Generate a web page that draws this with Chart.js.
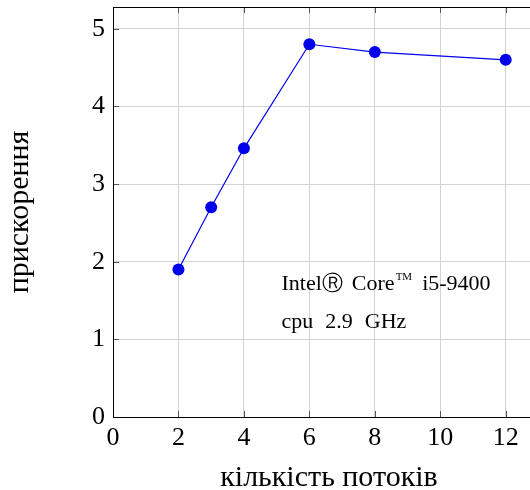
<!DOCTYPE html>
<html>
<head>
<meta charset="utf-8">
<script src="https://cdn.jsdelivr.net/npm/chart.js@4"></script>
<style>
  html, body { margin: 0; padding: 0; background: #fff; overflow: hidden; }
  #wrap { width: 560px; height: 500px; }
</style>
</head>
<body>
<div id="wrap"><canvas id="grafico" width="560" height="500"></canvas></div>
<script>
// dados
const threads = [2, 3, 4, 6, 8, 12];
const speedup = [1.9, 2.7, 3.46, 4.8, 4.7, 4.6];
const xTicks = [0, 2, 4, 6, 8, 10, 12];
const yTicks = [0, 1, 2, 3, 4, 5];
const cpuLine1 = ['Intel', '\u24C7', 'Core', 'TM', 'i5-9400'];
const cpuLine2 = ['cpu', '2.9', 'GHz'];

const serif = '"Liberation Serif", "DejaVu Serif", serif';
const azul = 'rgb(0, 0, 235)';

// marcas de tick para dentro + caixa + texto da CPU
const extras = {
    id: 'extras',
    afterDraw(chart) {
        const c = chart.ctx;
        const a = chart.chartArea;
        const sx = chart.scales.x, sy = chart.scales.y;
        c.save();
        c.strokeStyle = '#555';
        c.lineWidth = 1;
        c.beginPath();
        xTicks.forEach(v => {
            const px = Math.round(sx.getPixelForValue(v)) + 0.5;
            c.moveTo(px, a.bottom); c.lineTo(px, a.bottom - 6);
            c.moveTo(px, a.top); c.lineTo(px, a.top + 6);
        });
        yTicks.forEach(v => {
            const py = Math.round(sy.getPixelForValue(v)) + 0.5;
            c.moveTo(a.left, py); c.lineTo(a.left + 6, py);
            c.moveTo(a.right, py); c.lineTo(a.right - 6, py);
        });
        c.stroke();

        c.strokeStyle = '#000';
        c.beginPath();
        c.moveTo(a.left + 0.5, a.top + 0.5);
        c.lineTo(a.right, a.top + 0.5);
        c.moveTo(a.left + 0.5, a.top);
        c.lineTo(a.left + 0.5, a.bottom + 0.5);
        c.lineTo(a.right, a.bottom + 0.5);
        c.stroke();

        // texto "Intel(R) Core(TM) i5-9400 / cpu 2.9 GHz"
        c.fillStyle = '#000';
        c.textBaseline = 'alphabetic';
        const x0 = sx.getPixelForValue(5.15);
        const b1 = sy.getPixelForValue(1.64);
        const b2 = sy.getPixelForValue(1.15);
        const big = '22px ' + serif;
        let x = x0;
        c.font = big;
        c.fillText(cpuLine1[0], x, b1); x += c.measureText(cpuLine1[0]).width;
        c.font = '21px "DejaVu Sans", sans-serif';
        c.fillText(cpuLine1[1], x, b1); x += c.measureText(cpuLine1[1]).width + 9;
        c.font = big;
        c.fillText(cpuLine1[2], x, b1); x += c.measureText(cpuLine1[2]).width + 1;
        c.font = '11px ' + serif;
        c.fillText(cpuLine1[3], x, b1 - 10); x += c.measureText(cpuLine1[3]).width + 10;
        c.font = big;
        c.fillText(cpuLine1[4], x, b1);

        x = x0;
        cpuLine2.forEach(w => {
            c.fillText(w, x, b2);
            x += c.measureText(w).width + 12;
        });
        c.restore();
    }
};

new Chart(document.getElementById('grafico'), {
    type: 'line',
    data: {
        datasets: [{
            data: threads.map((t, i) => ({ x: t, y: speedup[i] })),
            borderColor: azul,
            backgroundColor: azul,
            borderWidth: 1.2,
            pointRadius: 6,
            pointHoverRadius: 6,
            pointBorderWidth: 0,
            tension: 0
        }]
    },
    options: {
        responsive: false,
        animation: false,
        layout: { padding: { top: 7, right: 15, left: 0, bottom: 0 } },
        plugins: { legend: { display: false }, tooltip: { enabled: false } },
        scales: {
            x: {
                type: 'linear',
                min: 0,
                max: 13.2,
                afterBuildTicks: s => { s.ticks = xTicks.map(v => ({ value: v })); },
                afterFit: s => { s.height = 83; s.paddingLeft = 0; s.paddingRight = 0; },
                grid: { color: '#d3d3d3', drawTicks: false, drawOnChartArea: true },
                border: { display: false },
                ticks: { padding: 6, color: '#000', font: { family: serif, size: 26 } },
                title: {
                    display: true,
                    text: 'кількість потоків',
                    color: '#000',
                    font: { family: serif, size: 30 },
                    padding: { top: 0, bottom: 4 }
                }
            },
            y: {
                min: 0,
                max: 5.28,
                afterBuildTicks: s => { s.ticks = yTicks.map(v => ({ value: v })); },
                afterFit: s => { s.width = 113; s.paddingTop = 0; s.paddingBottom = 0; },
                grid: { color: '#d3d3d3', drawTicks: false },
                border: { display: false },
                ticks: { padding: 8, color: '#000', font: { family: serif, size: 26 } },
                title: {
                    display: true,
                    text: 'прискорення',
                    color: '#000',
                    font: { family: serif, size: 30 },
                    padding: { top: 2 }
                }
            }
        }
    },
    plugins: [extras]
});
</script>
</body>
</html>
